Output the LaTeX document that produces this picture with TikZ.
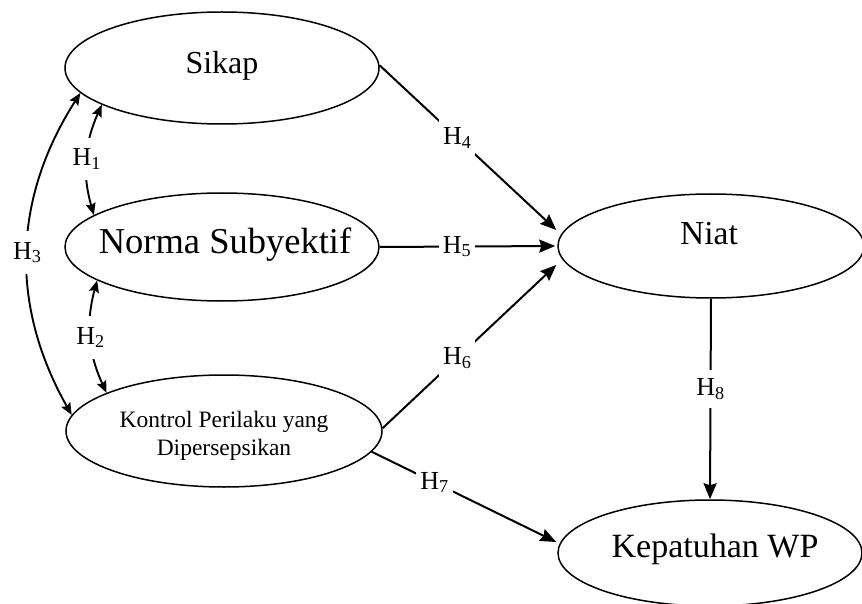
\documentclass[tikz,border=0pt]{standalone}
\usepackage{fontspec}
\setmainfont{Liberation Serif}
\usetikzlibrary{shapes.geometric,arrows.meta}
\begin{document}
\begin{tikzpicture}[x=1pt,y=-1pt,
  ell/.style={draw, ellipse, line width=1.5pt, inner sep=0pt},
  txt/.style={inner sep=0pt, font=\fontsize{33}{38}\selectfont},
  conn/.style={line width=2pt, -{Stealth[length=16pt,width=13pt,inset=2pt]}},
  bidir/.style={line width=1.9pt, {Stealth[length=12pt,width=10pt,inset=2pt]}-{Stealth[length=12pt,width=10pt,inset=2pt]}},
  lab/.style={fill=white, inner xsep=4pt, inner ysep=9pt, font=\fontsize{26}{30}\selectfont},
  vlab/.style={lab, inner ysep=11pt}]
\useasboundingbox (0,0) rectangle (862,604);
\node[ell, minimum width=314pt, minimum height=112pt] (sikap) at (222,68) {};
\node[txt, font=\fontsize{32}{36}\selectfont] (sikaptext) at (222,66) {Sikap};
\node[ell, minimum width=314pt, minimum height=108pt] (norma) at (222,247) {};
\node[txt, font=\fontsize{36.5}{40}\selectfont] (normatext) at (225,245) {Norma Subyektif};
\node[ell, minimum width=316pt, minimum height=112pt] (kontrol) at (224,431) {};
\node[txt, align=center, font=\fontsize{23.5}{28}\selectfont] (kontroltext) at (224,436) {Kontrol Perilaku yang\\Dipersepsikan};
\node[ell, minimum width=306pt, minimum height=104pt] (niat) at (711,246) {};
\node[txt, font=\fontsize{33.5}{38}\selectfont] (niattext) at (709,234) {Niat};
\node[ell, minimum width=304pt, minimum height=106pt] (kep) at (710,553) {};
\node[txt, font=\fontsize{34}{38}\selectfont] (keptext) at (715,549) {Kepatuhan WP};

\draw[conn] (sikap.1) -- node[lab,pos=0.44]{H\textsubscript{4}} ([xshift=-1pt,yshift=16pt]niat.west);
\draw[conn] (norma.east) -- node[lab,pos=0.44]{H\textsubscript{5}} ([xshift=-2pt]niat.west);
\draw[conn] (kontrol.1) -- node[lab,pos=0.43]{H\textsubscript{6}} ([xshift=-1pt,yshift=-19pt]niat.west);
\draw[conn] (kontrol.-8) -- node[lab,pos=0.34]{H\textsubscript{7}} ([xshift=-1pt,yshift=11pt]kep.west);
\draw[conn] (niat.south) -- node[lab,pos=0.45]{H\textsubscript{8}} (kep.north);

\draw[bidir] (sikap.197) to[bend right=20] node[vlab]{H\textsubscript{1}} (norma.166);
\draw[bidir] (norma.195) to[bend right=20] node[vlab]{H\textsubscript{2}} (kontrol.162);
\draw[bidir] (sikap.190) to[bend right=31] node[vlab]{H\textsubscript{3}} (kontrol.174);
\end{tikzpicture}
\end{document}
